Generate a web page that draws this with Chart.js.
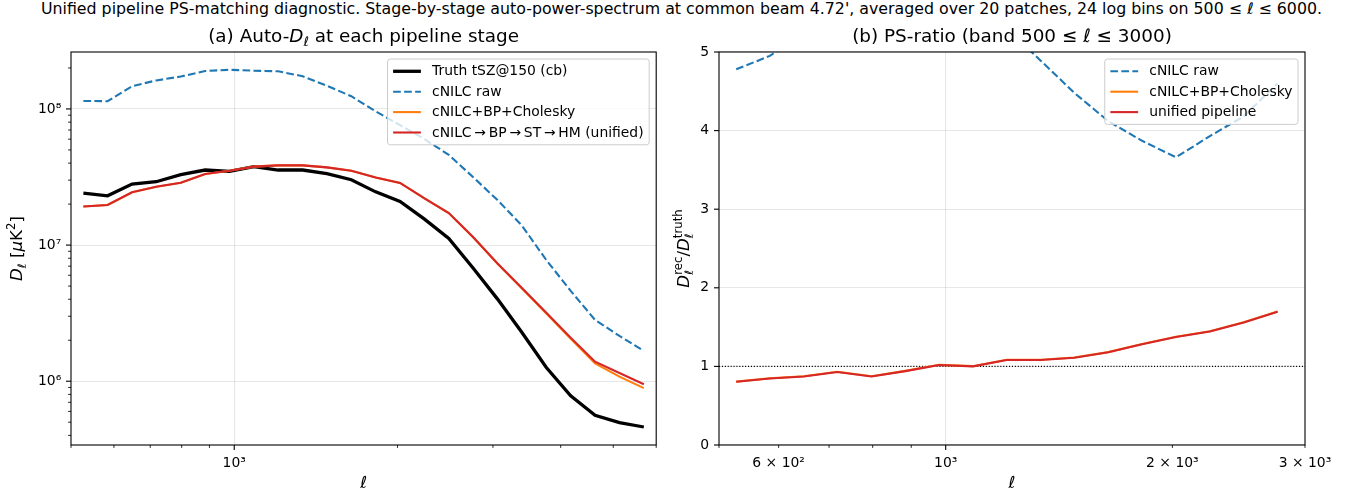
<!DOCTYPE html>
<html>
<head>
<meta charset="utf-8">
<title>PS-matching diagnostic</title>
<script src="https://cdn.jsdelivr.net/npm/chart.js@4.4.1/dist/chart.umd.min.js"></script>
<style>
  html, body { margin: 0; padding: 0; background: #fff; }
  body { width: 1363px; height: 495px; position: relative; overflow: hidden; font-family: "DejaVu Sans", sans-serif; }
  #suptitle { position: absolute; left: 0; top: 0; width: 1363px; text-align: center; font-size: 15.8px; line-height: 18px; color: #000; }
  .panel { position: absolute; top: 0; height: 495px; }
  #panelA { left: 0; width: 666px; }
  #panelB { left: 666px; width: 697px; }
</style>
</head>
<body>
<div id="suptitle">Unified pipeline PS-matching diagnostic. Stage-by-stage auto-power-spectrum at common beam 4.72', averaged over 20 patches, 24 log bins on 500 ≤ <i>ℓ</i> ≤ 6000.</div>
<div class="panel" id="panelA"><canvas id="chartA"></canvas></div>
<div class="panel" id="panelB"><canvas id="chartB"></canvas></div>
<script>
// bin centres (ell) and D_ell values
const ell = [527, 584, 648, 718, 797, 884, 980, 1087, 1205, 1337, 1482, 1644,
             1823, 2022, 2243, 2487, 2759, 3059, 3393, 3763, 4173, 4628, 5133, 5693];
const dTruth = [2.41e7, 2.30e7, 2.81e7, 2.92e7, 3.29e7, 3.56e7, 3.48e7, 3.77e7, 3.56e7, 3.56e7, 3.35e7, 3.02e7,
                2.46e7, 2.09e7, 1.55e7, 1.12e7, 6.75e6, 4.01e6, 2.28e6, 1.26e6, 7.8e5, 5.62e5, 4.96e5, 4.61e5];
const dRaw = [1.145e8, 1.14e8, 1.47e8, 1.62e8, 1.73e8, 1.90e8, 1.94e8, 1.91e8, 1.89e8, 1.74e8, 1.48e8, 1.24e8,
              9.6e7, 7.6e7, 6.0e7, 4.6e7, 3.15e7, 2.14e7, 1.39e7, 7.76e6, 4.61e6, 2.82e6, 2.15e6, 1.67e6];
const dCholesky = [1.92e7, 1.97e7, 2.44e7, 2.68e7, 2.87e7, 3.33e7, 3.52e7, 3.77e7, 3.85e7, 3.85e7, 3.72e7, 3.52e7,
                   3.14e7, 2.86e7, 2.20e7, 1.72e7, 1.14e7, 7.30e6, 4.80e6, 3.14e6, 2.05e6, 1.35e6, 1.08e6, 8.9e5];
const dUnified = [1.92e7, 1.97e7, 2.44e7, 2.68e7, 2.87e7, 3.33e7, 3.52e7, 3.77e7, 3.85e7, 3.85e7, 3.72e7, 3.52e7,
                  3.14e7, 2.86e7, 2.20e7, 1.72e7, 1.14e7, 7.32e6, 4.83e6, 3.18e6, 2.09e6, 1.39e6, 1.15e6, 9.5e5];

// ratio panel, band 500 <= ell <= 3000
const ellBand = [527, 584, 648, 718, 797, 884, 980, 1087, 1205, 1337, 1482, 1644, 1823, 2022, 2243, 2487, 2759];
const rRaw = [4.78, 4.95, 5.23, 5.55, 5.26, 5.34, 5.57, 5.07, 5.30, 4.89, 4.48, 4.12, 3.87, 3.66, 3.93, 4.18, 4.60];
const rCholesky = [0.806, 0.850, 0.875, 0.931, 0.875, 0.943, 1.020, 1.003, 1.084, 1.084, 1.114, 1.182, 1.284, 1.378, 1.446, 1.561, 1.698];
const rUnified = [0.804, 0.847, 0.872, 0.928, 0.872, 0.940, 1.017, 1.000, 1.081, 1.081, 1.111, 1.179, 1.281, 1.375, 1.443, 1.558, 1.695];
const refEll = [500, 3000];
const refRatio = [1, 1];

// axis ticks
const aXTicks = [500, 600, 700, 800, 900, 1000, 2000, 3000, 4000, 5000, 6000];
const aXMajor = [1000];
const aXLabels = { 1000: '10³' };
const aYTicks = [4e5, 5e5, 6e5, 7e5, 8e5, 9e5, 1e6, 2e6, 3e6, 4e6, 5e6, 6e6, 7e6, 8e6, 9e6,
                 1e7, 2e7, 3e7, 4e7, 5e7, 6e7, 7e7, 8e7, 9e7, 1e8, 2e8];
const aYMajor = [1e6, 1e7, 1e8];
const aYLabels = { 1e6: '10⁶', 1e7: '10⁷', 1e8: '10⁸' };
const bXTicks = [500, 600, 700, 800, 900, 1000, 2000, 3000];
const bXMajor = [1000];
const bXLabels = { 600: '6 × 10²', 1000: '10³', 2000: '2 × 10³', 3000: '3 × 10³' };
const bYTicks = [0, 1, 2, 3, 4, 5];
const bYMajor = [0, 1, 2, 3, 4, 5];

const FONT = '"DejaVu Sans"';
const FS = 13.9;       // ticks and legend
const LABEL_FS = 16.7; // axis labels
const TITLE_FS = 18.4;
const GRID = 'rgba(176,176,176,0.3)';

Chart.defaults.font.family = FONT;
Chart.defaults.font.size = FS;
Chart.defaults.color = '#000';

const pts = (xs, ys) => xs.map((x, i) => ({ x: x, y: ys[i] }));

function fontStr(size, it) { return (it ? 'italic ' : '') + size + 'px ' + FONT; }

function segWidth(ctx, s, size) {
    ctx.font = fontStr(size, s.it);
    let w = s.t ? ctx.measureText(s.t).width : 0;
    let sw = 0;
    if (s.sub) { ctx.font = fontStr(size * 0.7, s.subIt); sw = ctx.measureText(s.sub).width; }
    if (s.sup) { ctx.font = fontStr(size * 0.7, false); sw = Math.max(sw, ctx.measureText(s.sup).width); }
    return w + sw;
}

// draws text with simple italic / sub / superscript pieces
function drawRich(ctx, segs, x, y, size) {
    const total = segs.reduce((acc, s) => acc + segWidth(ctx, s, size), 0);
    let cx = x - total / 2;
    ctx.textAlign = 'left';
    ctx.textBaseline = 'alphabetic';
    ctx.fillStyle = '#000';
    for (const s of segs) {
        ctx.font = fontStr(size, s.it);
        if (s.t) { ctx.fillText(s.t, cx, y); cx += ctx.measureText(s.t).width; }
        let sw = 0;
        if (s.sub) {
            ctx.font = fontStr(size * 0.7, s.subIt);
            ctx.fillText(s.sub, cx, y + size * 0.22);
            sw = ctx.measureText(s.sub).width;
        }
        if (s.sup) {
            ctx.font = fontStr(size * 0.7, false);
            ctx.fillText(s.sup, cx, y - size * 0.42);
            sw = Math.max(sw, ctx.measureText(s.sup).width);
        }
        cx += sw;
    }
}

function drawLegend(ctx, chart, a) {
    const items = chart.data.datasets.filter(d => d.label);
    ctx.font = fontStr(FS, false);
    const textW = Math.max(...items.map(d => ctx.measureText(d.label).width));
    const pad = 5.6, handle = 27.8, gap = 11.1, rowH = 13.4, spacing = 7;
    const w = pad * 2 + handle + gap + textW;
    const h = pad * 2 + items.length * rowH + (items.length - 1) * spacing;
    const x0 = a.right - 7 - w, y0 = a.top + 7;

    ctx.beginPath();
    ctx.roundRect(x0, y0, w, h, 2.8);
    ctx.fillStyle = 'rgba(255,255,255,0.8)';
    ctx.fill();
    ctx.strokeStyle = '#cccccc';
    ctx.lineWidth = 1;
    ctx.stroke();

    items.forEach((d, i) => {
        const cy = y0 + pad + rowH / 2 + i * (rowH + spacing);
        ctx.save();
        ctx.strokeStyle = d.borderColor;
        ctx.lineWidth = d.borderWidth;
        ctx.setLineDash(d.borderDash || []);
        ctx.beginPath();
        ctx.moveTo(x0 + pad, cy);
        ctx.lineTo(x0 + pad + handle, cy);
        ctx.stroke();
        ctx.restore();
        ctx.fillStyle = '#000';
        ctx.font = fontStr(FS, false);
        ctx.textAlign = 'left';
        ctx.textBaseline = 'middle';
        ctx.fillText(d.label, x0 + pad + handle + gap, cy + 0.5);
    });
}

// frame, tick marks, titles, axis labels and legend in matplotlib style
function makeDecor(cfg) {
    return {
        id: 'decor' + cfg.name,
        afterDraw(chart) {
            const ctx = chart.ctx, a = chart.chartArea;
            const sx = chart.scales.x, sy = chart.scales.y;
            ctx.save();
            ctx.strokeStyle = '#000';
            sx.ticks.forEach(t => {
                const major = cfg.xMajor.includes(t.value);
                const px = sx.getPixelForValue(t.value);
                ctx.lineWidth = major ? 1.1 : 0.85;
                ctx.beginPath();
                ctx.moveTo(px, a.bottom);
                ctx.lineTo(px, a.bottom + (major ? 5 : 2.9));
                ctx.stroke();
            });
            sy.ticks.forEach(t => {
                const major = cfg.yMajor.includes(t.value);
                const py = sy.getPixelForValue(t.value);
                ctx.lineWidth = major ? 1.1 : 0.85;
                ctx.beginPath();
                ctx.moveTo(a.left, py);
                ctx.lineTo(a.left - (major ? 5 : 2.9), py);
                ctx.stroke();
            });
            ctx.lineWidth = 1.1;
            ctx.strokeRect(a.left, a.top, a.right - a.left, a.bottom - a.top);

            drawLegend(ctx, chart, a);

            const mid = (a.left + a.right) / 2;
            drawRich(ctx, cfg.title, mid, 42, TITLE_FS);
            drawRich(ctx, [{ t: 'ℓ', it: true }], mid, 488, LABEL_FS);
            ctx.save();
            ctx.translate(cfg.ylabelX, (a.top + a.bottom) / 2);
            ctx.rotate(-Math.PI / 2);
            drawRich(ctx, cfg.ylabel, 0, 0, LABEL_FS);
            ctx.restore();
            ctx.restore();
        }
    };
}

function logAxis(min, max, ticks, major, labels, fitKey, fitVal) {
    return {
        type: 'logarithmic',
        min: min,
        max: max,
        border: { display: false },
        grid: {
            drawTicks: false,
            lineWidth: 1.1,
            color: c => (c.tick && major.includes(c.tick.value)) ? GRID : 'rgba(0,0,0,0)'
        },
        ticks: {
            autoSkip: false,
            maxRotation: 0,
            padding: 9.8,
            callback: v => labels[v] || ''
        },
        afterBuildTicks: scale => { scale.ticks = ticks.map(v => ({ value: v })); },
        afterFit: scale => { scale[fitKey] = fitVal; }
    };
}

new Chart(document.getElementById('chartA'), {
    type: 'line',
    data: {
        datasets: [
            { label: 'Truth tSZ@150 (cb)', data: pts(ell, dTruth), borderColor: '#000000', borderWidth: 3.3, order: 3 },
            { label: 'cNILC raw', data: pts(ell, dRaw), borderColor: '#1f77b4', borderWidth: 2.1, borderDash: [7.7, 3.3], order: 2 },
            { label: 'cNILC+BP+Cholesky', data: pts(ell, dCholesky), borderColor: '#ff7f0e', borderWidth: 2.1, order: 1 },
            { label: 'cNILC\u2009→\u2009BP\u2009→\u2009ST\u2009→\u2009HM (unified)', data: pts(ell, dUnified), borderColor: '#d62728', borderWidth: 2.1, order: 0 }
        ]
    },
    options: {
        animation: false,
        responsive: true,
        maintainAspectRatio: false,
        devicePixelRatio: 1,
        parsing: false,
        layout: { padding: { top: 52, right: 8, left: 0, bottom: 0 } },
        elements: { point: { radius: 0 }, line: { tension: 0, fill: false } },
        datasets: { line: { clip: 0 } },
        plugins: { legend: { display: false }, title: { display: false }, tooltip: { enabled: false } },
        scales: {
            x: logAxis(500, 6000, aXTicks, aXMajor, aXLabels, 'height', 50),
            y: logAxis(3.4e5, 2.62e8, aYTicks, aYMajor, aYLabels, 'width', 71)
        }
    },
    plugins: [makeDecor({
        name: 'A',
        xMajor: aXMajor,
        yMajor: aYMajor,
        ylabelX: 22,
        title: [{ t: '(a) Auto-' }, { t: 'D', it: true, sub: 'ℓ', subIt: true }, { t: ' at each pipeline stage' }],
        ylabel: [{ t: 'D', it: true, sub: 'ℓ', subIt: true }, { t: ' [' }, { t: 'μ', it: true }, { t: 'K', sup: '2' }, { t: ']' }]
    })]
});

const yB = {
    type: 'linear',
    min: 0,
    max: 5,
    border: { display: false },
    grid: { drawTicks: false, lineWidth: 1.1, color: GRID },
    ticks: { autoSkip: false, padding: 9.8 },
    afterBuildTicks: scale => { scale.ticks = bYTicks.map(v => ({ value: v })); },
    afterFit: scale => { scale.width = 53; }
};

new Chart(document.getElementById('chartB'), {
    type: 'line',
    data: {
        datasets: [
            { data: pts(refEll, refRatio), borderColor: '#000000', borderWidth: 1.1, borderDash: [1.1, 1.8], order: 3 },
            { label: 'cNILC raw', data: pts(ellBand, rRaw), borderColor: '#1f77b4', borderWidth: 2.1, borderDash: [7.7, 3.3], order: 2 },
            { label: 'cNILC+BP+Cholesky', data: pts(ellBand, rCholesky), borderColor: '#ff7f0e', borderWidth: 2.1, order: 1 },
            { label: 'unified pipeline', data: pts(ellBand, rUnified), borderColor: '#d62728', borderWidth: 2.1, order: 0 }
        ]
    },
    options: {
        animation: false,
        responsive: true,
        maintainAspectRatio: false,
        devicePixelRatio: 1,
        parsing: false,
        layout: { padding: { top: 52, right: 58, left: 0, bottom: 0 } },
        elements: { point: { radius: 0 }, line: { tension: 0, fill: false } },
        datasets: { line: { clip: 0 } },
        plugins: { legend: { display: false }, title: { display: false }, tooltip: { enabled: false } },
        scales: {
            x: logAxis(500, 3000, bXTicks, bXMajor, bXLabels, 'height', 50),
            y: yB
        }
    },
    plugins: [makeDecor({
        name: 'B',
        xMajor: bXMajor,
        yMajor: bYMajor,
        ylabelX: 23,
        title: [{ t: '(b) PS-ratio (band 500 ≤ ' }, { t: 'ℓ', it: true }, { t: ' ≤ 3000)' }],
        ylabel: [{ t: 'D', it: true, sub: 'ℓ', subIt: true, sup: 'rec' }, { t: '/' }, { t: 'D', it: true, sub: 'ℓ', subIt: true, sup: 'truth' }]
    })]
});
</script>
</body>
</html>
